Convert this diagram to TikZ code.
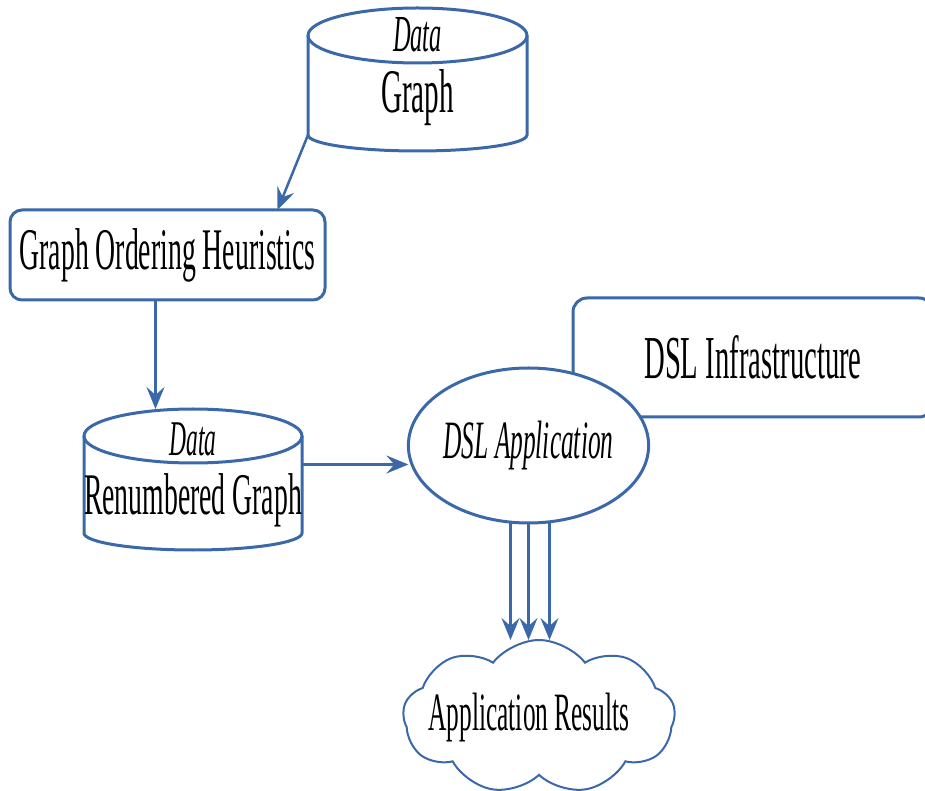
\documentclass[tikz,border=0pt]{standalone}
\usepackage{fontspec}
\setmainfont[FakeStretch=0.47]{Liberation Serif}
\usetikzlibrary{arrows.meta,shapes.geometric,shapes.symbols}
\definecolor{flowblue}{RGB}{59,104,168}

\begin{document}
\begin{tikzpicture}[
    x=1pt, y=1pt,
    line width=3pt,
    every node/.style={inner sep=0pt, outer sep=0pt, text=black},
    flow/.style={draw=flowblue, line width=2.5pt, -{Stealth[length=22pt, width=18pt, inset=8pt]}},
    box/.style={draw=flowblue, fill=white, rounded corners=12pt},
    store/.style={minimum width=218pt},
    app/.style={ellipse, draw=flowblue, fill=white},
    result/.style={cloud, cloud puffs=9, cloud puff arc=105, cloud ignores aspect, draw=flowblue, line width=2pt}
]
  \useasboundingbox (0,0) rectangle (925,790);
  \clip (0,0) rectangle (925,790);

  % Input graph store (top)
  \node[store, minimum width=219pt, minimum height=99.5pt] (graph) at (417.5,704.75) {};
  \draw[flowblue] (graph.north) ellipse [x radius=109.5, y radius=27.5];
  \draw[flowblue] (graph.north west) -- (graph.south west)
      arc [start angle=180, end angle=360, x radius=109.5, y radius=16] -- (graph.north east);
  \node[font=\fontsize{52}{62}\selectfont\itshape] (graphtag) at (417.5,755) {Data};
  \node[font=\fontsize{62}{74}\selectfont] (graphlbl) at (417.5,692) {Graph};

  % Reordering step
  \node[box, minimum width=315pt, minimum height=90pt, font=\fontsize{59}{70}\selectfont] (order) at (167.5,535) {Graph Ordering Heuristics};

  % Renumbered graph store
  \node[store, minimum height=97pt] (renum) at (193,305.5) {};
  \draw[flowblue] (renum.north) ellipse [x radius=109, y radius=27];
  \draw[flowblue] (renum.north west) -- (renum.south west)
      arc [start angle=180, end angle=360, x radius=109, y radius=17] -- (renum.north east);
  \coordinate (renumtop) at ([yshift=27pt]renum.north);
  \node[font=\fontsize{50}{60}\selectfont\itshape] (renumtag) at (193,351) {Data};
  \node[font=\fontsize{59}{70}\selectfont] (renumlbl) at (193,290) {Renumbered Graph};

  % DSL side
  \node[box, rounded corners=14pt, minimum width=360pt, minimum height=119pt, font=\fontsize{61}{72}\selectfont] (infra) at (753,432.5) {DSL Infrastructure};
  \node[app, minimum width=217pt, minimum height=155pt, font=\fontsize{54}{64}\selectfont\itshape] (app) at (528.5,344.5) {DSL Application};

  % Output
  \node[result, minimum width=272pt, minimum height=154pt] (results) at (539,73) {};
  \node[font=\fontsize{54}{64}\selectfont] (resultslbl) at (529,72) {Application Results};

  % Connectors
  \draw[flow] (graph.south west) -- ([xshift=110pt]order.north);
  \draw[flow] ([xshift=-12pt]order.south) -- ([xshift=-12pt]order.south |- renumtop);
  \draw[flow] ([yshift=20pt]renum.east) -- ([yshift=20pt]renum.east -| app.west);
  \foreach \dx in {-18,0,21}
    \draw[flow] ([xshift=\dx pt]app.south) -- ([xshift=\dx pt]app.south |- results.north);
\end{tikzpicture}
\end{document}
